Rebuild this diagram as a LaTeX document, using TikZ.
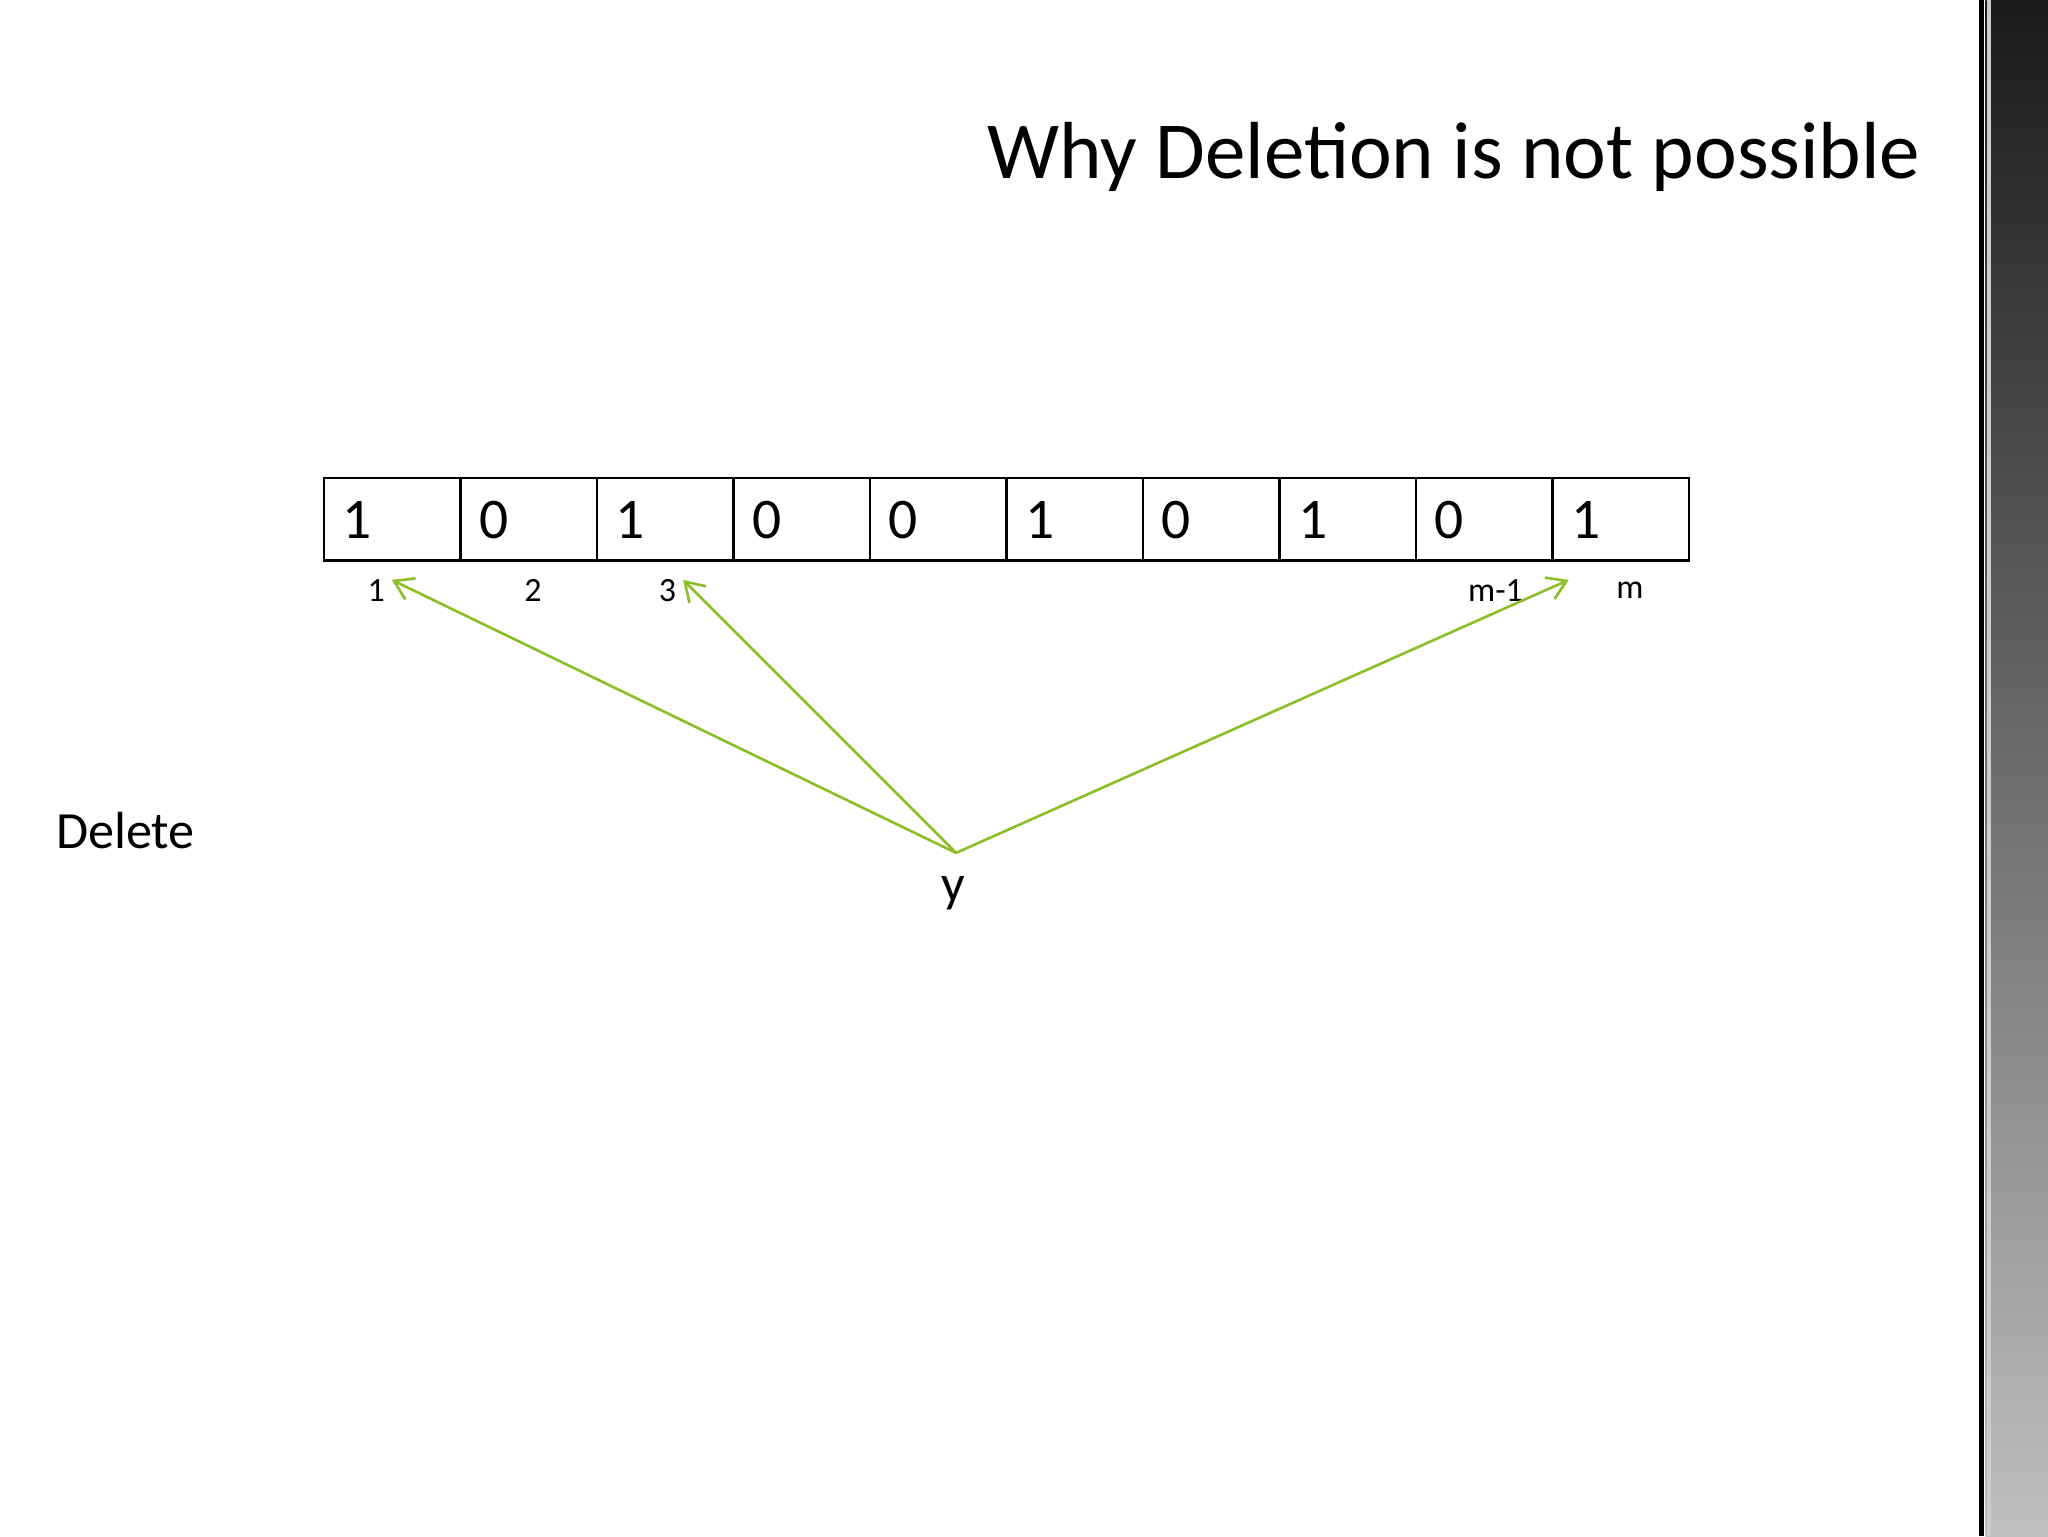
\documentclass[tikz,border=0pt]{standalone}
\usepackage{fontspec}
\setmainfont{Carlito}
\usetikzlibrary{arrows.meta}
\begin{document}
\begin{tikzpicture}[x=1pt,y=-1pt,
  cell/.style={draw,line width=2pt,minimum width=104.5pt,minimum height=63pt,inner sep=0pt,outer sep=0pt},
  digit/.style={font=\fontsize{44}{50}\selectfont,anchor=west},
  idx/.style={font=\fontsize{26}{30}\selectfont},
  arr/.style={draw=arrgreen,line width=2pt,-{Straight Barb[length=14pt,width=18pt]}}]
\definecolor{arrgreen}{RGB}{140,190,40}
\useasboundingbox (0,0) rectangle (1568,1176);
\fill[white] (0,0) rectangle (1568,1176);
% right strip
\shade[top color=black!90,bottom color=black!25] (1520,0) rectangle (1568,1176);
\fill[black] (1515,0) rectangle (1519,1176);
\fill[white!80!black] (1521,0) rectangle (1524,1176);
\node[anchor=east,font=\fontsize{62}{70}\selectfont] (title) at (1474,120) {Why Deletion is not possible};
\foreach \i/\d in {0/1,1/0,2/1,3/0,4/0,5/1,6/0,7/1,8/0,9/1}{
  \node[cell,anchor=north west] (c\i) at ({248+104.5*\i},366) {};
  \node[digit] (d\i) at ({248+104.5*\i+11},398) {\d};
}
\node[idx] (i1) at (288,452) {1};
\node[idx] (i2) at (408,452) {2};
\node[idx] (i3) at (511,452) {3};
\node[idx] (im1) at (1145,452) {m-1};
\node[idx] (im) at (1248,452) {m};
\coordinate (src) at (732,653);
\coordinate (t1) at (300,444);
\coordinate (t3) at (523,444);
\coordinate (tm) at (1201,444);
\draw[arr] (src) -- (t1);
\draw[arr] (src) -- (t3);
\draw[arr] (src) -- (tm);
\node[font=\fontsize{40}{46}\selectfont] (del) at (96,636) {Delete};
\node[font=\fontsize{40}{46}\selectfont] (y) at (730,684) {y};
\end{tikzpicture}
\end{document}
